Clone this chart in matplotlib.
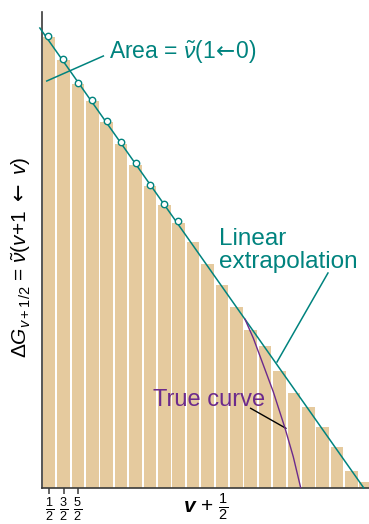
"""Vibrational energy levels: Birge-Sponer plot"""

import matplotlib.pyplot as plt

plt.rcParams['font.family'] = ['Liberation Sans', 'DejaVu Sans']
plt.rcParams['mathtext.fontset'] = 'custom'
plt.rcParams['mathtext.rm'] = 'Liberation Sans'
plt.rcParams['mathtext.it'] = 'Liberation Sans:italic'
plt.rcParams['mathtext.bf'] = 'Liberation Sans:bold'
plt.rcParams['mathtext.bfit'] = 'Liberation Sans:bold:italic'
plt.rcParams['mathtext.sf'] = 'DejaVu Sans'
plt.rcParams['mathtext.fallback'] = 'stixsans'

# bar heights, dG_{v+1/2} (arbitrary units)
bar_heights = [45.1, 42.8, 40.4, 38.7, 36.6, 34.4, 32.3, 30.2, 28.35, 26.55,
               24.6, 22.4, 20.3, 18.1, 15.8, 14.2, 11.7, 9.55, 8.07, 6.07,
               4.07, 1.73, 0.57]
bar_pos = list(range(len(bar_heights)))

# measured points on the linear part
pt_x = [0.40, 1.44, 2.48, 3.49, 4.49, 5.49, 6.53, 7.48, 8.49, 9.42]
pt_y = [45.2, 42.87, 40.5, 38.8, 36.73, 34.57, 32.47, 30.33, 28.4, 26.73]

# linear extrapolation
lin_x = [-0.15, 22.35]
lin_y = [46.0, 0.0]

# true curve
true_x = [14.10, 14.68, 15.37, 16.06, 16.88, 17.45, 17.97]
true_y = [16.87, 14.97, 12.3, 9.63, 5.97, 3.13, 0.0]

tick_pos = [0.5, 1.5, 2.5]
tick_labels = [r'$\frac{1}{2}$', r'$\frac{3}{2}$', r'$\frac{5}{2}$']

teal = '#00837E'
purple = '#6C2A8C'
tan = '#E5CA9E'
axcol = '#3A3A3A'

fig = plt.figure(figsize=(3.69, 5.24), dpi=100)
ax = fig.add_axes([42 / 369, 36 / 524, 327 / 369, 476 / 524])

ax.bar([p + 0.05 for p in bar_pos], bar_heights, width=0.88, align='edge',
       color=tan, edgecolor='none', zorder=1)
ax.plot(lin_x, lin_y, color=teal, lw=1.1, zorder=3, clip_on=False)
ax.plot(true_x, true_y, color=purple, lw=1.0, zorder=3)
ax.plot(pt_x, pt_y, 'o', ms=4.6, mfc='white', mec=teal, mew=1.0, zorder=4)

ax.set_xlim(0, 22.71)
ax.set_ylim(0, 47.6)
ax.spines['top'].set_visible(False)
ax.spines['right'].set_visible(False)
for s in ['left', 'bottom']:
    ax.spines[s].set_color(axcol)
    ax.spines[s].set_linewidth(1.2)
ax.set_yticks([])
ax.set_xticks(tick_pos)
ax.set_xticklabels(tick_labels, fontsize=13)
ax.tick_params(axis='x', length=4, width=1.1, color=axcol, pad=1)

fig.text(206 / 369, 1 - 513 / 524, r'$\mathbfit{v}$ + $\frac{1}{2}$',
         ha='center', va='baseline', fontsize=15)
fig.text(21 / 369, 1 - 257 / 524,
         r'$\Delta G_{v+1/2}$ = $\tilde{\nu}$($v$+1 $\mathsf{\leftarrow}$ $v$)',
         rotation=90, ha='center', va='center', fontsize=15)

# annotations
ax.text(4.65, 43.0, r'Area = $\tilde{\nu}$(1$\!\mathsf{\leftarrow}\!$0)',
        color=teal, fontsize=16.5, va='baseline')
ax.plot([4.26, 0.33], [43.2, 40.7], color=teal, lw=1.1)
ax.text(12.29, 24.3, 'Linear', color=teal, fontsize=17.5, va='baseline')
ax.text(12.29, 22.0, 'extrapolation', color=teal, fontsize=17.5, va='baseline')
ax.plot([19.86, 16.32], [21.5, 12.6], color=teal, lw=1.1)
ax.text(7.73, 8.2, 'True curve', color=purple, fontsize=17, va='baseline')
ax.plot([14.49, 16.94], [7.97, 5.97], color='black', lw=1.0)

plt.savefig('out.png', dpi=100)
